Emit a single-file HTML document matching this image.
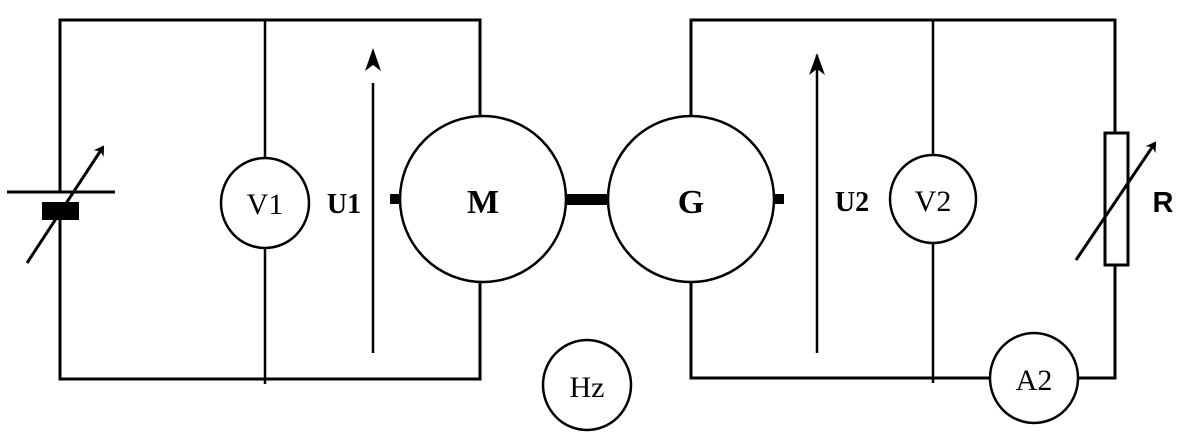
<!DOCTYPE html>
<html><head><meta charset="utf-8"><style>html,body{margin:0;padding:0;background:#fff}svg{display:block}</style></head>
<body>
<svg width="1200" height="435" viewBox="0 0 1200 435" xmlns="http://www.w3.org/2000/svg">
<defs>
<marker id="ah" markerWidth="10" markerHeight="12" refX="8" refY="6" orient="auto" markerUnits="userSpaceOnUse">
<path d="M0,0 L10,6 L0,12 L3,6 Z" fill="#000"/>
</marker>
<marker id="ah2" markerWidth="22" markerHeight="16" refX="20" refY="8" orient="auto" markerUnits="userSpaceOnUse">
<path d="M0,0 L22,8 L0,16 L6,8 Z" fill="#000"/>
</marker>
</defs>
<g fill="none" stroke="#000" stroke-width="3">
<path d="M60,192 L60,20 L480,20 L480,116 M480,282 L480,379 L60,379 L60,220"/>
<line x1="265" y1="20" x2="265" y2="158" stroke-width="2.5"/>
<line x1="265" y1="247" x2="265" y2="384" stroke-width="2.5"/>
<ellipse cx="265" cy="203" rx="44" ry="45" stroke-width="2.5"/>
<line x1="7" y1="192" x2="115" y2="192"/>
<line x1="27" y1="263" x2="103" y2="147" marker-end="url(#ah)"/>
<line x1="373" y1="353" x2="373" y2="83" stroke-width="2.5"/>
<circle cx="483" cy="199" r="83" stroke-width="2.5"/>
<circle cx="691" cy="199" r="83" stroke-width="2.5"/>
<path d="M691,116 L691,20 L1115,20 L1115,133 M1115,265 L1115,378 L1079,378 M989,378 L691,378 L691,282"/>
<line x1="933" y1="20" x2="933" y2="155" stroke-width="2.5"/>
<line x1="933" y1="244" x2="933" y2="383" stroke-width="2.5"/>
<ellipse cx="933" cy="199" rx="43" ry="44" stroke-width="2.5"/>
<line x1="817" y1="353" x2="817" y2="55" stroke-width="2.5" marker-end="url(#ah2)"/>
<rect x="1105" y="133" width="23" height="132"/>
<line x1="1076" y1="260" x2="1155" y2="143" marker-end="url(#ah)"/>
<ellipse cx="1034" cy="378" rx="44" ry="45" stroke-width="2.5"/>
<ellipse cx="587" cy="385" rx="44" ry="45" stroke-width="2.5"/>
</g>
<path d="M373,48 L365,71 L373,65 L381,71 Z" fill="#000"/>
<rect x="42" y="202" width="37" height="18" fill="#000"/>
<rect x="390" y="194" width="11" height="10" fill="#000"/>
<rect x="566" y="194" width="42" height="11" fill="#000"/>
<rect x="773" y="194" width="11" height="10" fill="#000"/>
<g font-family="'Liberation Serif',serif" font-size="30" text-anchor="middle" fill="#000">
<text x="265" y="214">V1</text>
<text x="933" y="211">V2</text>
<text x="1034" y="390">A2</text>
<text x="587" y="397">Hz</text>
<text x="344" y="213" font-weight="bold" font-size="28">U1</text>
<text x="852" y="211" font-weight="bold" font-size="28">U2</text>
<text x="483" y="213" font-weight="bold" font-size="34">M</text>
<text x="691" y="213" font-weight="bold" font-size="34">G</text>
</g>
<text x="1163" y="212" font-family="'Liberation Sans',sans-serif" font-weight="bold" font-size="29" text-anchor="middle">R</text>
</svg>
</body></html>
